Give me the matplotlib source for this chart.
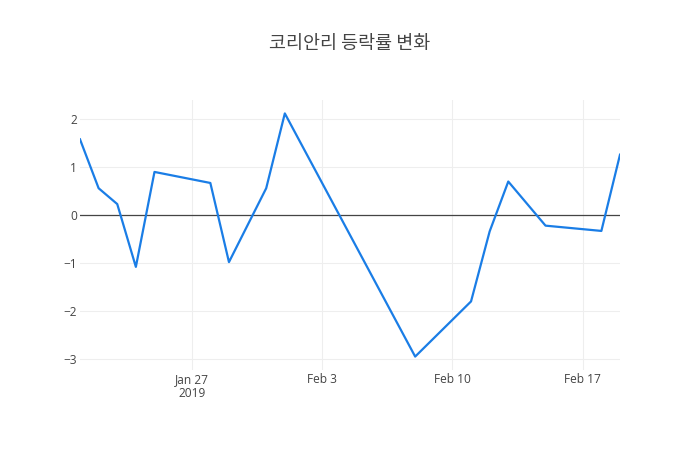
import matplotlib
matplotlib.use("Agg")
import matplotlib.pyplot as plt
import pandas as pd

dates = ["2019-01-21", "2019-01-22", "2019-01-23", "2019-01-24", "2019-01-25",
         "2019-01-28", "2019-01-29", "2019-01-31", "2019-02-01", "2019-02-08",
         "2019-02-11", "2019-02-12", "2019-02-13", "2019-02-15", "2019-02-18",
         "2019-02-19"]
changes = [1.58, 0.56, 0.23, -1.08, 0.90, 0.67, -0.98, 0.56, 2.12, -2.95,
           -1.80, -0.34, 0.70, -0.22, -0.33, 1.26]
title = "코리안리 등락률 변화"
xtick_dates = ["2019-01-27", "2019-02-03", "2019-02-10", "2019-02-17"]
xtick_labels = ["Jan 27\n2019", "Feb 3", "Feb 10", "Feb 17"]
ytick_vals = [-3, -2, -1, 0, 1, 2]

plt.rcParams['font.family'] = ['Open Sans', 'Noto Sans CJK KR', 'DejaVu Sans']

x = pd.to_datetime(dates)
fig = plt.figure(figsize=(7, 4.5), dpi=100)
ax = fig.add_axes([80/700, 80/450, 540/700, 270/450])

ax.plot(x, changes, color='#1a7de6', lw=1.6, zorder=3)
ax.axhline(0, color='#444444', lw=0.9, zorder=2)

ax.set_xlim(x[0], x[-1])
ax.set_ylim(-3.23, 2.40)
ax.set_xticks(pd.to_datetime(xtick_dates))
ax.set_xticklabels(xtick_labels)
ax.set_yticks(ytick_vals)
ax.set_yticklabels([str(v).replace('-', '\u2212') for v in ytick_vals])

ax.grid(True, color='#eeeeee', lw=0.8, zorder=0)
for s in ax.spines.values():
    s.set_visible(False)
ax.tick_params(length=0, labelsize=8.6, colors='#444444')
ax.tick_params(axis='x', pad=2.5)
ax.tick_params(axis='y', pad=2.0)
for lbl in ax.get_xticklabels():
    lbl.set_linespacing(1.1)

fig.text(0.5, 1 - 44/450, title, ha='center', va='center', fontsize=13.3,
         color='#444444', fontweight='medium',
         family=['Noto Sans CJK KR', 'DejaVu Sans'])

fig.savefig("out.png", dpi=100, facecolor='white')
